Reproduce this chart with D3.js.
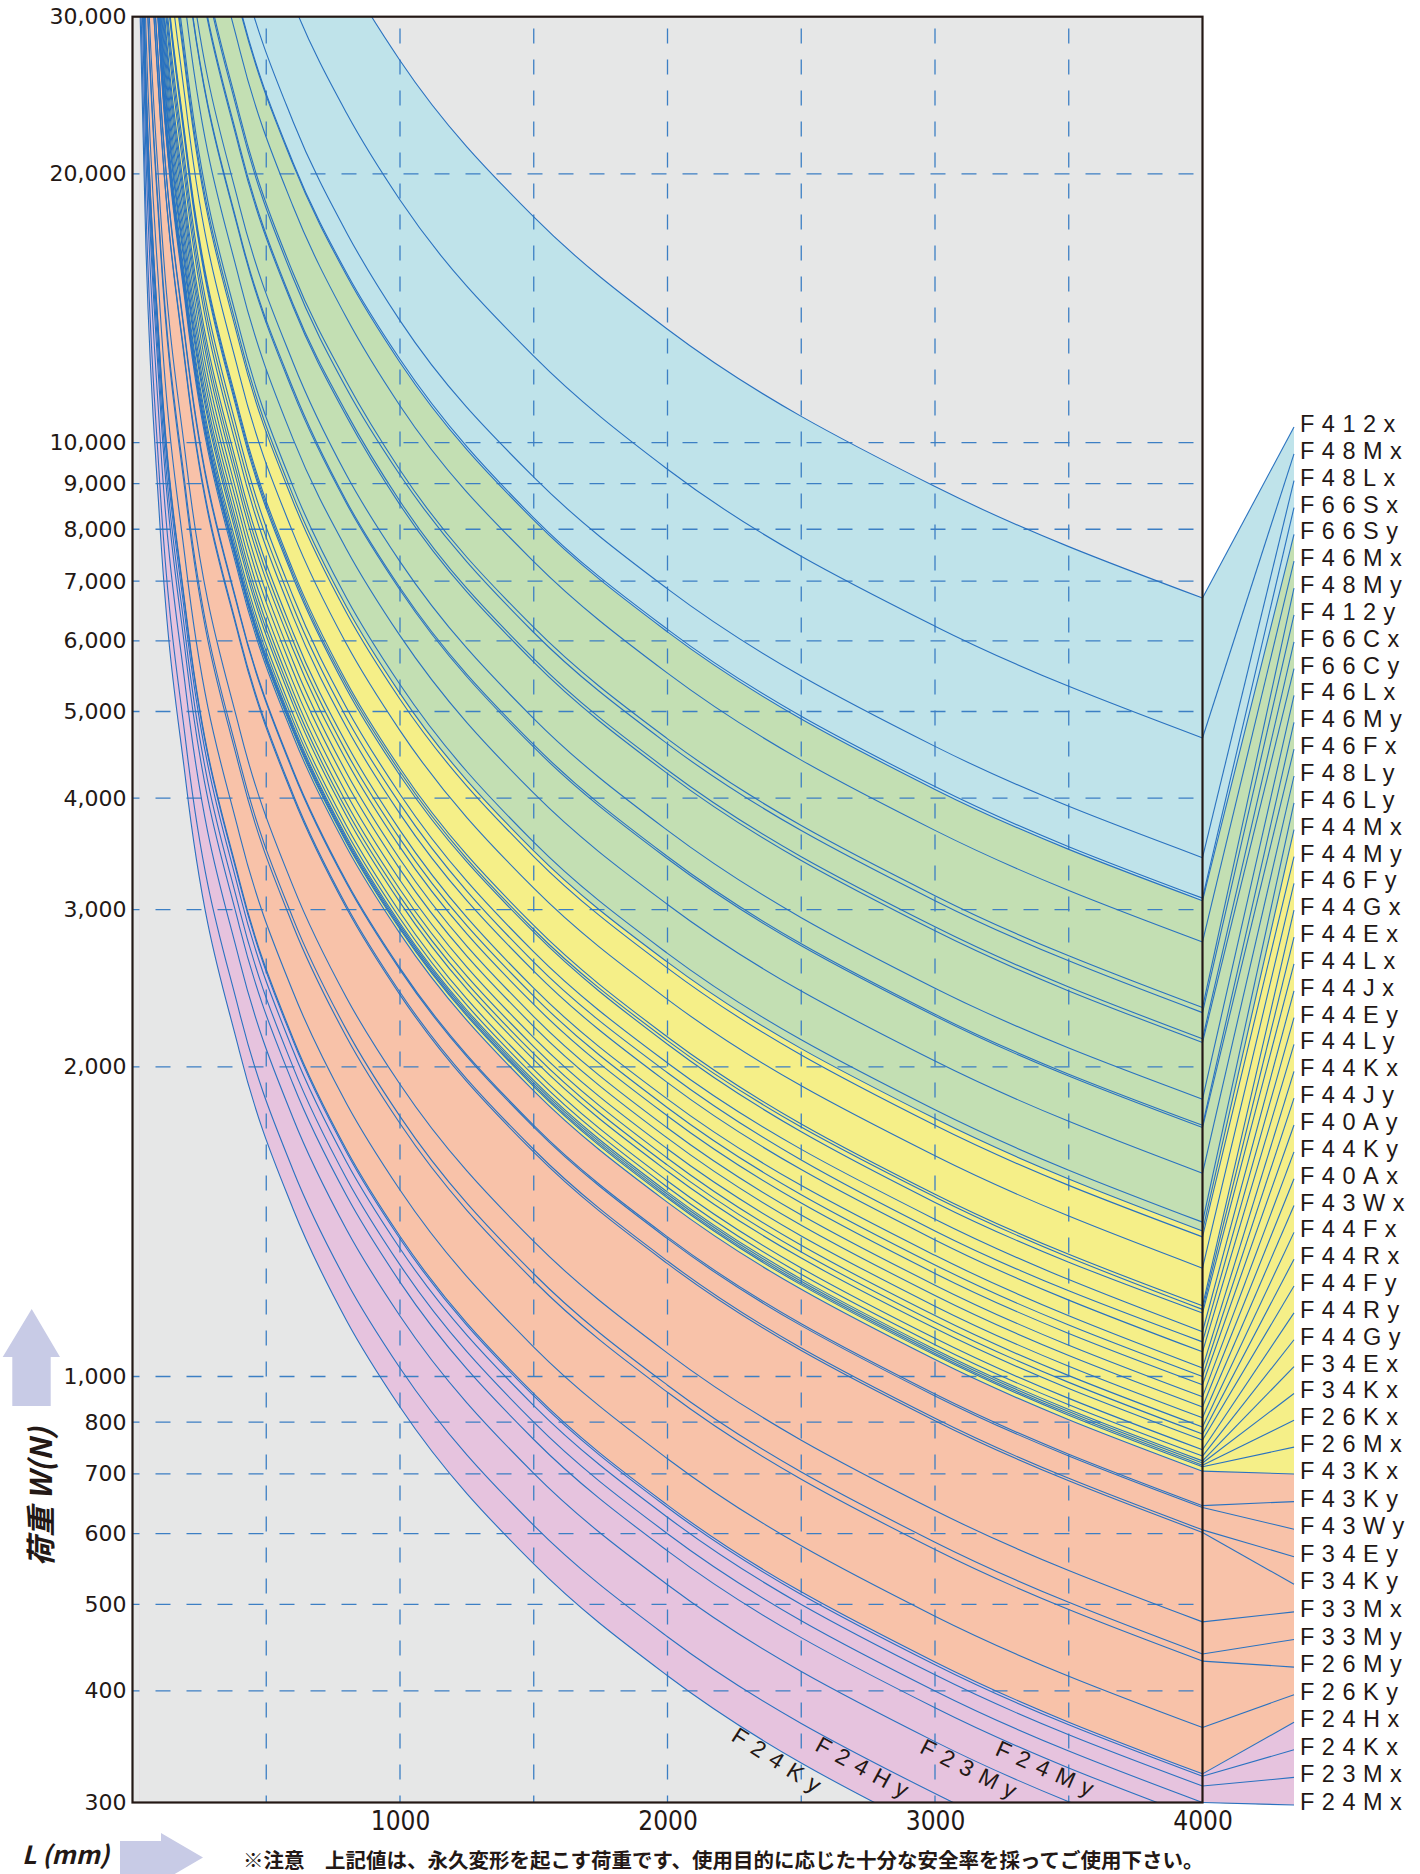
<!DOCTYPE html>
<html>
<head>
<meta charset="utf-8">
<script src="https://cdn.jsdelivr.net/npm/d3@7"></script>
<style>
body { margin: 0; background: #fff; }
svg { display: block; }
</style>
</head>
<body>
<div class="graph"></div>
<script>
// Span lengths (mm) at which the loads are read
var spanL = [25, 50, 100, 200, 400, 600, 800, 1000, 1500, 2000, 3000, 4000];

// Series labelled at the right, top to bottom
var labelNames = ["F412x", "F48Mx", "F48Lx", "F66Sx", "F66Sy", "F46Mx", "F48My", "F412y",
    "F66Cx", "F66Cy", "F46Lx", "F46My", "F46Fx", "F48Ly", "F46Ly", "F44Mx", "F44My", "F46Fy",
    "F44Gx", "F44Ex", "F44Lx", "F44Jx", "F44Ey", "F44Ly", "F44Kx", "F44Jy", "F40Ay", "F44Ky",
    "F40Ax", "F43Wx", "F44Fx", "F44Rx", "F44Fy", "F44Ry", "F44Gy", "F34Ex", "F34Kx", "F26Kx",
    "F26Mx", "F43Kx", "F43Ky", "F43Wy", "F34Ey", "F34Ky", "F33Mx", "F33My", "F26My", "F26Ky",
    "F24Hx", "F24Kx", "F23Mx", "F24Mx"];

// Load W (N) of each labelled series at spanL
var loads = [
    [1072000, 536000, 268000, 134000, 67000, 44700, 33500, 26800, 17900, 13400, 8930, 6700],
    [747000, 374000, 187000, 93400, 46700, 31100, 23400, 18700, 12500, 9340, 6230, 4670],
    [549000, 274000, 137000, 68600, 34300, 22900, 17200, 13700, 9150, 6860, 4570, 3430],
    [494000, 247000, 124000, 61800, 30900, 20600, 15500, 12400, 8240, 6180, 4120, 3090],
    [491000, 246000, 123000, 61400, 30700, 20500, 15400, 12300, 8190, 6140, 4090, 3070],
    [442000, 221000, 110000, 55200, 27600, 18400, 13800, 11000, 7360, 5520, 3680, 2760],
    [373000, 186000, 93200, 46600, 23300, 15500, 11700, 9320, 6210, 4660, 3110, 2330],
    [368000, 184000, 92000, 46000, 23000, 15300, 11500, 9200, 6130, 4600, 3070, 2300],
    [344000, 172000, 86000, 43000, 21500, 14300, 10800, 8600, 5730, 4300, 2870, 2150],
    [341000, 170000, 85200, 42600, 21300, 14200, 10700, 8520, 5680, 4260, 2840, 2130],
    [294000, 147000, 73600, 36800, 18400, 12300, 9200, 7360, 4910, 3680, 2450, 1840],
    [275000, 138000, 68800, 34400, 17200, 11500, 8600, 6880, 4590, 3440, 2290, 1720],
    [274000, 137000, 68400, 34200, 17100, 11400, 8550, 6840, 4560, 3420, 2280, 1710],
    [243000, 122000, 60800, 30400, 15200, 10100, 7600, 6080, 4050, 3040, 2030, 1520],
    [214000, 107000, 53600, 26800, 13400, 8930, 6700, 5360, 3570, 2680, 1790, 1340],
    [210000, 105000, 52400, 26200, 13100, 8730, 6550, 5240, 3490, 2620, 1750, 1310],
    [206000, 103000, 51600, 25800, 12900, 8600, 6450, 5160, 3440, 2580, 1720, 1290],
    [190000, 95200, 47600, 23800, 11900, 7930, 5950, 4760, 3170, 2380, 1590, 1190],
    [173000, 86400, 43200, 21600, 10800, 7200, 5400, 4320, 2880, 2160, 1440, 1080],
    [171000, 85600, 42800, 21400, 10700, 7130, 5350, 4280, 2850, 2140, 1430, 1070],
    [170000, 84800, 42400, 21200, 10600, 7070, 5300, 4240, 2830, 2120, 1410, 1060],
    [162000, 80800, 40400, 20200, 10100, 6730, 5050, 4040, 2690, 2020, 1350, 1010],
    [157000, 78700, 39400, 19700, 9840, 6560, 4920, 3940, 2620, 1970, 1310, 984],
    [153000, 76700, 38400, 19200, 9590, 6390, 4800, 3840, 2560, 1920, 1280, 959],
    [147000, 73600, 36800, 18400, 9200, 6130, 4600, 3680, 2450, 1840, 1230, 920],
    [144000, 72000, 36000, 18000, 9000, 6000, 4500, 3600, 2400, 1800, 1200, 900],
    [141000, 70500, 35200, 17600, 8810, 5870, 4405, 3524, 2349, 1762, 1174, 881],
    [137000, 68300, 34200, 17100, 8540, 5693, 4270, 3416, 2277, 1708, 1139, 854],
    [133000, 66600, 33300, 16600, 8320, 5547, 4160, 3328, 2219, 1664, 1109, 832],
    [129000, 64700, 32400, 16200, 8090, 5393, 4045, 3236, 2157, 1618, 1079, 809],
    [126000, 63200, 31600, 15800, 7900, 5267, 3950, 3160, 2107, 1580, 1053, 790],
    [124000, 62100, 31000, 15500, 7760, 5173, 3880, 3104, 2069, 1552, 1035, 776],
    [122000, 61100, 30600, 15300, 7640, 5093, 3820, 3056, 2037, 1528, 1019, 764],
    [119000, 59600, 29800, 14900, 7450, 4967, 3725, 2980, 1987, 1490, 993, 745],
    [117000, 58600, 29300, 14700, 7330, 4887, 3665, 2932, 1955, 1466, 977, 733],
    [116000, 57900, 29000, 14500, 7240, 4827, 3620, 2896, 1931, 1448, 965, 724],
    [115000, 57600, 28800, 14400, 7200, 4800, 3600, 2880, 1920, 1440, 960, 720],
    [115000, 57300, 28600, 14300, 7160, 4773, 3580, 2864, 1909, 1432, 955, 716],
    [114000, 57000, 28500, 14300, 7130, 4753, 3565, 2852, 1901, 1426, 951, 713],
    [113000, 56400, 28200, 14100, 7050, 4700, 3525, 2820, 1880, 1410, 940, 705],
    [103000, 51600, 25800, 12900, 6450, 4300, 3225, 2580, 1720, 1290, 860, 645],
    [103000, 51400, 25700, 12800, 6420, 4280, 3210, 2568, 1712, 1284, 856, 642],
    [97000, 48500, 24200, 12100, 6060, 4040, 3030, 2424, 1616, 1212, 808, 606],
    [96300, 48200, 24100, 12000, 6020, 4013, 3010, 2408, 1605, 1204, 803, 602],
    [76500, 38200, 19100, 9560, 4780, 3187, 2390, 1912, 1275, 956, 637, 478],
    [70400, 35200, 17600, 8800, 4400, 2933, 2200, 1760, 1173, 880, 587, 440],
    [69100, 34600, 17300, 8640, 4320, 2880, 2160, 1728, 1152, 864, 576, 432],
    [58200, 29100, 14600, 7280, 3640, 2427, 1820, 1456, 971, 728, 485, 364],
    [51700, 25800, 12900, 6460, 3230, 2153, 1615, 1292, 861, 646, 431, 323],
    [51400, 25700, 12800, 6420, 3210, 2140, 1605, 1284, 856, 642, 428, 321],
    [50100, 25000, 12500, 6260, 3130, 2087, 1565, 1252, 835, 626, 417, 313],
    [48000, 24000, 12000, 6000, 3000, 2000, 1500, 1200, 800, 600, 400, 300]
];

// Series labelled inside the plot (they fall below 300 N before 4000 mm)
var innerNames = ["F24Ky", "F24Hy", "F23My", "F24My"];
var innerLoads = [
    [33300, 16600, 8320, 4160, 2080, 1387, 1040, 832, 555, 416, 277, 208],
    [36800, 18400, 9200, 4600, 2300, 1533, 1150, 920, 613, 460, 307, 230],
    [42100, 21000, 10500, 5260, 2630, 1753, 1315, 1052, 701, 526, 351, 263],
    [45900, 23000, 11500, 5740, 2870, 1913, 1435, 1148, 765, 574, 383, 287]
];

// Axis ticks (the original prints "1,000" on the 900 line)
var yTickValues = [300, 400, 500, 600, 700, 800, 900, 2000, 3000, 4000, 5000, 6000, 7000,
    8000, 9000, 10000, 20000, 30000];
var yTickLabels = ["300", "400", "500", "600", "700", "800", "1,000", "2,000", "3,000", "4,000",
    "5,000", "6,000", "7,000", "8,000", "9,000", "10,000", "20,000", "30,000"];
var xTickValues = [1000, 2000, 3000, 4000];
var xGridValues = [500, 1000, 1500, 2000, 2500, 3000, 3500];

// Colour bands: series forming the upper edge of each band
var bandTops = ["F412x", "F66Sy", "F44Mx", "F43Kx", "F24Hx"];

// Configuration
var width = 1420, height = 1874;
var plotLeft = 132.5, plotRight = 1202.5, plotTop = 16.7, plotBottom = 1802.5;
var wedgeX = 1294, labelTextX = 1300;
var bandColours = ["#bfe3ea", "#c3dfb3", "#f5ef88", "#f8c2a9", "#e6c3de"];
var bgColour = "#e6e7e7";
var lineColour = "#2a72c0";
var gridColour = "#3c7fc4";
var inkColour = "#231815";
var arrowColour = "#c8cbe6";
var labelFont = "'Noto Sans CJK JP', 'Noto Sans', sans-serif";
var tagFont = "'Liberation Sans', Arial, sans-serif";
var innerLabelAt = [2280, 2590, 2980, 3260];

var x = d3.scaleLinear().domain([0, 4000]).range([plotLeft, plotRight]);
var y = d3.scaleLog().domain([300, 30000]).range([plotBottom, plotTop]);
var labelY = d3.scaleLinear().domain([0, 39, 51]).range([424, 1471, 1802]);

var allNames = labelNames.concat(innerNames);
var allLoads = loads.concat(innerLoads);

function points(row) {
    return row.map(function(w, i) { return [spanL[i], w]; });
}
function loadsOf(name) {
    return allLoads[allNames.indexOf(name)];
}

var line = d3.line()
    .x(function(d) { return x(d[0]); })
    .y(function(d) { return y(d[1]); })
    .curve(d3.curveMonotoneX);

var area = d3.area()
    .x(function(d) { return x(d[0]); })
    .y0(plotBottom)
    .y1(function(d) { return y(d[1]); })
    .curve(d3.curveMonotoneX);

var svg = d3.select('.graph').append('svg')
    .attr('width', width)
    .attr('height', height);

svg.append('defs').append('clipPath').attr('id', 'plotClip')
    .append('rect')
    .attr('x', plotLeft).attr('y', plotTop)
    .attr('width', plotRight - plotLeft).attr('height', plotBottom - plotTop);

var plot = svg.append('g').attr('clip-path', 'url(#plotClip)');

plot.append('rect')
    .attr('x', plotLeft).attr('y', plotTop)
    .attr('width', plotRight - plotLeft).attr('height', plotBottom - plotTop)
    .style('fill', bgColour);

// bands, painted from the top one down
bandTops.forEach(function(name, b) {
    plot.append('path')
        .attr('d', area(points(loadsOf(name))))
        .style('fill', bandColours[b]);
});
// grey again below the weakest series
plot.append('path')
    .attr('d', area(points(loadsOf("F24Ky"))))
    .style('fill', bgColour);

// dashed grid
plot.selectAll('.hgrid')
    .data(yTickValues.filter(function(v) { return v > 300 && v < 30000; }))
    .enter().append('line')
    .attr('x1', plotLeft).attr('x2', plotRight)
    .attr('y1', function(d) { return y(d); })
    .attr('y2', function(d) { return y(d); })
    .style('stroke', gridColour)
    .style('stroke-width', 1.3)
    .style('stroke-dasharray', '15,16')
    .style('stroke-dashoffset', 8);

plot.selectAll('.vgrid')
    .data(xGridValues)
    .enter().append('line')
    .attr('x1', function(d) { return x(d); })
    .attr('x2', function(d) { return x(d); })
    .attr('y1', plotBottom).attr('y2', plotTop)
    .style('stroke', gridColour)
    .style('stroke-width', 1.3)
    .style('stroke-dasharray', '15,16')
    .style('stroke-dashoffset', 8);

var curves = plot.selectAll('.curve')
    .data(allLoads)
    .enter().append('path')
    .attr('class', 'curve')
    .attr('d', function(d) { return line(points(d)); })
    .style('fill', 'none')
    .style('stroke', lineColour)
    .style('stroke-width', 1.1);

// wedge between the axis end and the labels
var last = spanL.length - 1;
function endY(i) { return y(loads[i][last]); }
function tagY(i) { return labelY(i) + 3; }
var bottomIdx = labelNames.length - 1;

bandTops.forEach(function(name, b) {
    var i = labelNames.indexOf(name);
    var pts = [[plotRight, endY(i)], [wedgeX, tagY(i)], [wedgeX, tagY(bottomIdx)], [plotRight, endY(bottomIdx)]];
    svg.append('path')
        .attr('d', 'M' + pts.join('L') + 'Z')
        .style('fill', bandColours[b]);
});

svg.selectAll('.connector')
    .data(labelNames)
    .enter().append('line')
    .attr('x1', plotRight)
    .attr('y1', function(d, i) { return endY(i); })
    .attr('x2', wedgeX)
    .attr('y2', function(d, i) { return tagY(i); })
    .style('stroke', lineColour)
    .style('stroke-width', 1.1);

svg.selectAll('.tag')
    .data(labelNames)
    .enter().append('text')
    .attr('x', labelTextX)
    .attr('y', function(d, i) { return labelY(i); })
    .attr('dominant-baseline', 'central')
    .style('font-family', tagFont)
    .style('font-size', '23.5px')
    .style('letter-spacing', '7.5px')
    .style('fill', inkColour)
    .text(function(d) { return d; });

// frame
svg.append('rect')
    .attr('x', plotLeft).attr('y', plotTop)
    .attr('width', plotRight - plotLeft).attr('height', plotBottom - plotTop)
    .style('fill', 'none')
    .style('stroke', inkColour)
    .style('stroke-width', 2.2);

// labels along the inner curves
function pointAtX(node, tx) {
    var lo = 0, hi = node.getTotalLength();
    for (var k = 0; k < 40; k++) {
        var mid = (lo + hi) / 2;
        if (node.getPointAtLength(mid).x < tx) lo = mid; else hi = mid;
    }
    return node.getPointAtLength(lo);
}
curves.each(function(d, i) {
    var k = i - labelNames.length;
    if (k < 0) return;
    var tx = x(innerLabelAt[k]);
    var p = pointAtX(this, tx),
        p1 = pointAtX(this, tx - 8),
        p2 = pointAtX(this, tx + 8);
    var ang = Math.atan2(p2.y - p1.y, p2.x - p1.x) * 180 / Math.PI;
    svg.append('text')
        .attr('transform', 'translate(' + p.x + ',' + p.y + ') rotate(' + ang + ')')
        .attr('x', -4)
        .attr('y', 17)
        .style('font-family', tagFont)
        .style('font-size', '23px')
        .style('letter-spacing', '8.5px')
        .style('fill', inkColour)
        .text(innerNames[k]);
});

// axes
var yAxis = svg.append('g')
    .attr('transform', 'translate(' + plotLeft + ',0)')
    .call(d3.axisLeft(y)
        .tickValues(yTickValues)
        .tickFormat(function(d) { return yTickLabels[yTickValues.indexOf(d)]; })
        .tickSize(0)
        .tickPadding(6));
yAxis.select('.domain').remove();
yAxis.selectAll('text')
    .style('font-family', "'DejaVu Sans', sans-serif")
    .style('font-size', '22px')
    .style('fill', inkColour);

var xAxis = svg.append('g')
    .attr('transform', 'translate(0,' + plotBottom + ')')
    .call(d3.axisBottom(x)
        .tickValues(xTickValues)
        .tickFormat(d3.format('d'))
        .tickSize(0)
        .tickPadding(9));
xAxis.select('.domain').remove();
xAxis.selectAll('text')
    .style('font-family', "'DejaVu Sans Condensed', 'DejaVu Sans', sans-serif")
    .style('font-stretch', 'condensed')
    .style('font-size', '26px')
    .style('fill', inkColour);

// axis titles and arrows
svg.append('path')
    .attr('d', 'M31.7,1309L60,1357L50.7,1357L50.7,1406L12.3,1406L12.3,1357L2.7,1357Z')
    .style('fill', arrowColour);
svg.append('path')
    .attr('d', 'M120,1841L161,1841L161,1833L203,1857.5L161,1882L161,1874L120,1874Z')
    .style('fill', arrowColour);

svg.append('text')
    .attr('transform', 'translate(39,1497) rotate(-90)')
    .attr('text-anchor', 'middle')
    .attr('dominant-baseline', 'central')
    .style('font-family', labelFont)
    .style('font-size', '30px')
    .style('font-weight', 'bold')
    .style('font-style', 'italic')
    .style('fill', inkColour)
    .text('荷重 W(N)');

svg.append('text')
    .attr('x', 22).attr('y', 1864)
    .style('font-family', labelFont)
    .style('font-size', '25px')
    .style('font-weight', 'bold')
    .style('font-style', 'italic')
    .style('fill', inkColour)
    .text('L (mm)');

svg.append('text')
    .attr('x', 243).attr('y', 1859)
    .attr('dominant-baseline', 'central')
    .style('font-family', labelFont)
    .style('font-size', '20.5px')
    .style('font-weight', 'bold')
    .style('fill', inkColour)
    .text('※注意　上記値は、永久変形を起こす荷重です、使用目的に応じた十分な安全率を採ってご使用下さい。');
</script>
</body>
</html>
